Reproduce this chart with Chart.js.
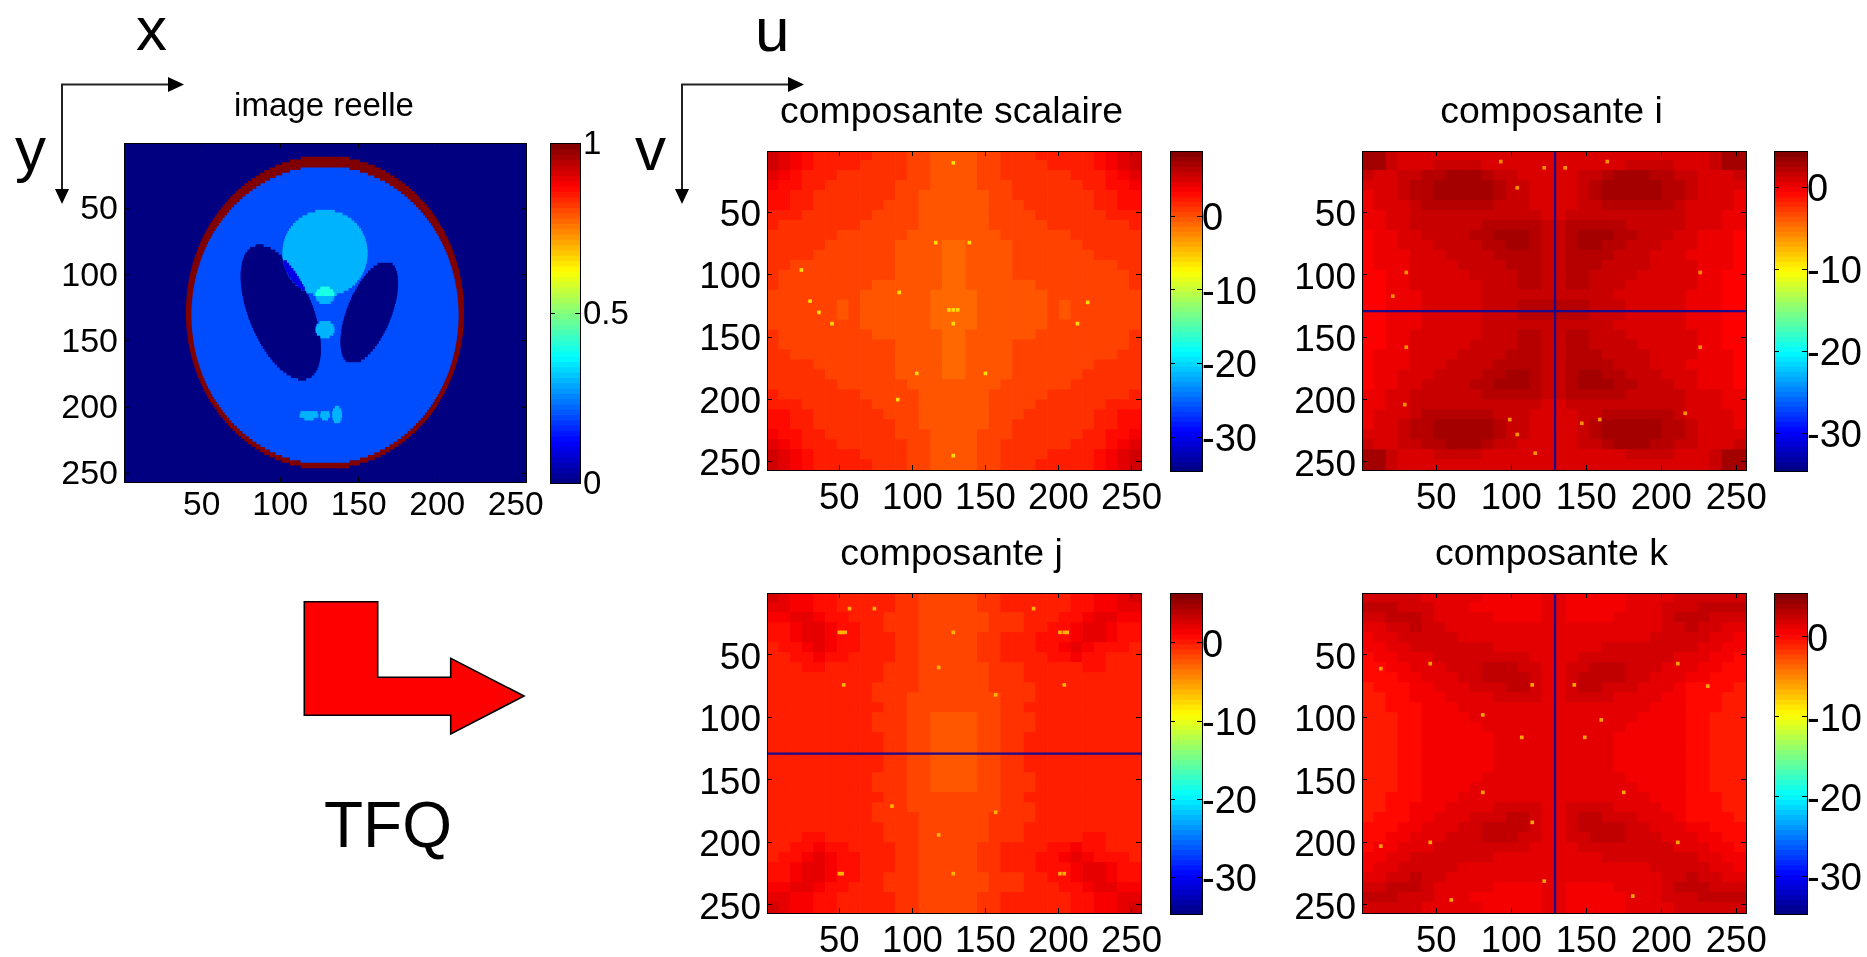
<!DOCTYPE html>
<html><head><meta charset="utf-8">
<style>
html,body{margin:0;padding:0;background:#fff;width:1867px;height:957px;overflow:hidden}
canvas{position:absolute;display:block}
svg{position:absolute;left:0;top:0;pointer-events:none}
svg text{font-family:"Liberation Sans",Arial,sans-serif;fill:#000}
</style>
<script src="https://cdn.jsdelivr.net/npm/chart.js@4"></script>
</head><body>
<svg width="1867" height="957" viewBox="0 0 1867 957">
<text x="136" y="50" font-size="62">x</text>
<text x="15" y="170" font-size="62">y</text>
<text x="755" y="51" font-size="62">u</text>
<text x="635" y="170" font-size="62">v</text>
<text x="324" y="847" font-size="64">TFQ</text>
<g fill="none" stroke="#222" stroke-width="2">
<path d="M170 84.5H62V190"/><path d="M792 84.5H682V190"/></g>
<g fill="#000">
<path d="M184 84.5L168 77V92Z"/><path d="M62 204L55 189H69Z"/>
<path d="M804 84.5L788 77V92Z"/><path d="M682 204L675 189H689Z"/></g>
<path d="M304.3 601.7H377.7V677.3H450.7V658.3L524 696L450.7 734V715.3H304.3Z" fill="#f00" stroke="#000" stroke-width="1.6"/>
</svg>
<script>
const plotTicks=[50,100,150,200,250];
const imageTicks=[0,0.5,1];
const fftTicks=[0,-10,-20,-30];
const levelsImage={background:0,skull:1,body:0.2,overlap:0.1,bright:0.3,peak:0.4};
const skullHalfWidths=[88.3,88.3,88.3,88.2,88.1,88.0,87.9,87.7,87.5,87.3,87.0,86.8,86.5,86.1,85.8,85.4,85.0,84.6,84.1,83.6,83.1,82.5,81.9,81.3,80.7,80.0,79.2,78.5,77.7,76.9,76.0,75.1,74.1,73.1,72.1,71.0,69.9,68.7,67.5,66.2,64.8,63.4,61.9,60.3,58.7,57.0,55.1,53.2,51.1,49.0,46.6,44.1,41.4,38.5,35.2,31.5,27.3,22.1,15.2];
const bodyHalfWidths=[84.8,84.8,84.7,84.7,84.6,84.4,84.3,84.1,83.9,83.7,83.4,83.1,82.8,82.5,82.1,81.7,81.2,80.8,80.3,79.7,79.2,78.6,78.0,77.3,76.6,75.8,75.1,74.3,73.4,72.5,71.6,70.6,69.5,68.5,67.3,66.1,64.9,63.6,62.2,60.8,59.3,57.7,56.0,54.2,52.4,50.4,48.2,46.0,43.5,40.9,38.0,34.8,31.2,27.1,22.1,15.4];
const leftLobe=[[78.5,84.4,89.2],[80.5,80.9,93.7],[82.5,79.2,96.6],[84.5,78,98.8],[86.5,77.2,100.8],[88.5,76.5,102.5],[90.5,76,104],[92.5,75.7,105.5],[94.5,75.4,106.8],[96.5,75.2,108.2],[98.5,75,109.4],[100.5,75,110.5],[102.5,75,111.6],[104.5,75,112.6],[106.5,75.2,113.6],[108.5,75.3,114.5],[110.5,75.5,115.5],[112.5,75.8,116.3],[114.5,76,117],[116.5,76.4,117.8],[118.5,76.7,118.5],[120.5,77.1,119.3],[122.5,77.5,119.9],[124.5,78,120.6],[126.5,78.5,121.1],[128.5,79,121.7],[130.5,79.6,122.2],[132.5,80.1,122.7],[134.5,80.8,123.2],[136.5,81.4,123.6],[138.5,82.1,123.9],[140.5,82.9,124.3],[142.5,83.6,124.6],[144.5,84.5,125],[146.5,85.3,125.2],[148.5,86.2,125.4],[150.5,87.1,125.5],[152.5,88,125.6],[154.5,89.1,125.7],[156.5,90.2,125.7],[158.5,91.4,125.7],[160.5,92.5,125.5],[162.5,93.9,125.3],[164.5,95.2,125],[166.5,96.6,124.6],[168.5,98.2,124.2],[170.5,99.9,123.5],[172.5,101.9,122.7],[174.5,104.2,121.5],[176.5,107,119.8],[178.5,111.5,116.3]];
const rightLobe=[[92.5,162.1,171.4],[94.5,159.6,172.8],[96.5,157.7,173.5],[98.5,156.1,174.1],[100.5,154.6,174.4],[102.5,153.3,174.7],[104.5,152,174.8],[106.5,150.8,174.8],[108.5,149.8,174.8],[110.5,148.8,174.7],[112.5,147.8,174.4],[114.5,146.9,174.3],[116.5,146,174],[118.5,145.3,173.7],[120.5,144.5,173.3],[122.5,143.8,172.8],[124.5,143.2,172.4],[126.5,142.5,171.9],[128.5,142,171.4],[130.5,141.4,170.8],[132.5,140.9,170.1],[134.5,140.5,169.5],[136.5,140,168.8],[138.5,139.7,168.1],[140.5,139.3,167.3],[142.5,139,166.4],[144.5,138.9,165.5],[146.5,138.7,164.6],[148.5,138.6,163.6],[150.5,138.5,162.5],[152.5,138.5,161.3],[154.5,138.7,160.1],[156.5,138.9,158.7],[158.5,139.2,157.2],[160.5,139.8,155.6],[162.5,140.5,153.7],[164.5,141.9,151.3]];
const topDiscHalfWidths=[[52.5,6],[54.5,11],[56.5,14.2],[58.5,16.6],[60.5,18.5],[62.5,20.1],[64.5,21.5],[66.5,22.7],[68.5,23.7],[70.5,24.5],[72.5,25.2],[74.5,25.7],[76.5,26.2],[78.5,26.5],[80.5,26.7],[82.5,26.9],[84.5,26.9],[86.5,26.8],[88.5,26.6],[90.5,26.3],[92.5,25.8],[94.5,25.3],[96.5,24.6],[98.5,23.8],[100.5,22.9],[102.5,21.8],[104.5,20.4],[106.5,18.9],[108.5,17],[110.5,14.7],[112.5,11.7],[114.5,7.3]];
const overlapSpans=[[90.5,102.2,104],[92.5,102.7,105.5],[94.5,103.2,106.8],[96.5,103.9,108.2],[98.5,104.7,109.4],[100.5,105.6,110.5],[102.5,106.7,111.6],[104.5,108.1,112.6],[106.5,109.6,113.6],[108.5,111.5,114.5],[110.5,113.8,115.5],[138.5,123.3,123.9],[140.5,122.7,124.3],[142.5,122.7,124.6],[144.5,123.5,125]];
const peakSpans=[[110.5,125.7,131.3],[112.5,123.5,133.5],[114.5,122.7,134.3]];
const brightSpans=[[116.5,122.7,134.3],[118.5,123.3,133.7],[120.5,125.1,131.9],[136.5,125.1,131.9],[138.5,123.3,133.7],[140.5,122.7,134.3],[142.5,122.7,134.3],[144.5,123.5,133.5],[146.5,125.7,131.3],[204.5,113.1,123.5],[206.5,112.5,124.1],[208.5,115.5,121.1],[204.5,126,131],[206.5,125.6,131.4],[208.5,126.8,130.2],[200.5,135,137.4],[202.5,133.8,138.6],[204.5,133.3,139.1],[206.5,133.3,139.1],[208.5,133.6,138.8],[210.5,134.4,138]];

const scalaireRows=[
"87654444433322111122333444445678","87654444333322111122333344445678","76544433333322111122333333444567","65544333333222111122233333344556",
"55443333333221111112233333334455","55443333332221111112223333334455","44433333322221111112222333333444","43333333222221111112222233333334",
"33333322222211111111222222333333","33333222222111100111122222233333","33332222222111100111122222223333","33222222222111100111122222222233",
"32222222222111100111122222222223","32222222211111100111111222222223","22222222111111000011111122222222","22222212111111000011111121222222",
"22222212111111000011111121222222","22222222111111000011111122222222","32222222211111100111111222222223","32222222222111100111122222222223",
"33222222222111100111122222222233","33332222222111100111122222223333","33333222222111100111122222233333","33333322222211111111222222333333",
"43333333222221111112222233333334","44433333322221111112222333333444","55443333332221111112223333334455","55443333333221111112233333334455",
"65544333333222111122233333344556","76544433333322111122333333444567","87654444333322111122333344445678","87654444433322111122333444445678"];
const iRows=[
"77544444444444444444444444444577","77544455554444444444445555444577","54455667776554444455677766554445","44456677777655444456777776654444",
"34456677777655444456777776654443","34445666666555444455666666544443","33445555555555544555555555544433","33445555556666655666665555544433",
"23344555566777655677766555443332","23344455556677655677665554443332","23334445555666655666655544433332","23334444555566655666555544443332",
"22334444455556655665555444443322","22334444445556655665554444443322","22333444445555555555544444433322","22333444445556666665554444433322",
"22333444445556666665554444433322","22333444445555555555544444433322","22334444445556655665554444443322","22334444455556655665555444443322",
"23334444555566655666555544443332","23334445555666655666655544433332","23344455556677655677665554443332","23344555566777655677766555443332",
"33445555556666655666665555544433","33445555555555544555555555544433","34445666666555444455666666544443","34456677777655444456777776654443",
"44456677777655444456777776654444","54455667776554444455677766554445","77544455554444444444445555444577","77544444444444444444444444444577"];
const jRows=[
"76554433333221111122333333445567","66554433333221111122333333445566","55665443332221111112223334456655","44566544332221111112223344566544",
"44566544333221111122333444566544","34456544333221111122333445654443","33445443333221111122333344544333","33344333332221111112223333344333",
"33333333332221111112223333333333","33333333322221111112222333333333","33333333322211111111222333333333","33333333332211111111223333333333",
"33333333322211000011222333333333","33333333322211000011222333333333","33333333332211000011223333333333","33333333332211000011223333333333",
"33333333332211000011223333333333","33333333332211000011223333333333","33333333322211000011222333333333","33333333322211000011222333333333",
"33333333332211111111223333333333","33333333322211111111222333333333","33333333322221111112222333333333","33333333332221111112223333333333",
"33344333332221111112223333344333","33445443333221111122333344544333","34456544333221111122333445654443","44566544333221111122333444566544",
"44566544332221111112223344566544","55665443332221111112223334456655","66554433333221111122333333445566","76554433333221111122333333445567"];
const kRows=[
"66666555554444455444445555666666","77766655544444455444445556667777","66777655555444455444455556777666","55667665555555555555555556676655",
"45566666555555555555555566666554","44556666666555555555666666665544","34455566666666555566666666555443","33445556667776655667776665554433",
"33344555667777655677776655544333","23334455566677655677666555433332","22334445555666655666655554433322","22333444555555555555555544433322",
"22233444455555555555555444433222","22233444445555555555554444433222","22233444444555555555544444433222","22233444444555555555544444433222",
"22233444444555555555544444433222","22233444444555555555544444433222","22233444445555555555554444433222","22233444455555555555555444433222",
"22333444555555555555555544433322","22334445555666655666655554433322","23334455566677655677666555433332","33344555667777655677776655544333",
"33445556667776655667776665554433","34455566666666555566666666555443","44556666666555555555666666665544","45566666555555555555555566666554",
"55667665555555555555555556676655","66777655555444455444455556777666","77766655544444455444445556667777","66666555554444455444445555666666"];
const scalaireDots=[[45,139],[24,96],[213,139],[91,114],[128,128],[125,128],[131,128],[128,139],[128,10],[128,245],[116,74],[139,74],[30,121],[36,130],[90,200],[220,122],[103,179],[150,179]];
const iDots=[[30,98],[226,98],[30,158],[226,158],[122,14],[93,9],[164,9],[21,117],[136,14],[104,30],[99,216],[29,204],[216,211],[147,219],[116,243],[104,228],[159,216]];
const jDots=[[50,32],[52,32],[54,32],[201,32],[204,32],[206,32],[50,225],[52,225],[201,225],[204,225],[57,13],[74,13],[183,13],[157,82],[157,176],[53,74],[204,74],[128,32],[128,225],[86,171],[118,60],[118,194]];
const kDots=[[81,160],[175,160],[46,57],[211,57],[114,74],[142,74],[81,98],[160,102],[107,116],[149,116],[114,184],[211,200],[46,200],[181,243],[60,246],[122,231],[231,75],[13,61],[13,203]];
const dotLevel=-6;

const FONT='"Liberation Sans",Arial,sans-serif';
function jet(t){const c=v=>Math.round(255*Math.max(0,Math.min(1,v)));
 return `rgb(${c(Math.min(4*t-1.5,-4*t+4.5))},${c(Math.min(4*t-0.5,-4*t+3.5))},${c(Math.min(4*t+0.5,-4*t+2.5))})`;}
function axis(kind,ticks,size,pad,fix,min,max,rev,pos,dy){
 return {type:'linear',min,max,reverse:rev,position:pos,offset:false,
  afterBuildTicks:s=>{s.ticks=ticks.map(v=>({value:v}));},
  afterFit:s=>{if(kind==='x')s.height=fix;else s.width=fix;
   if(dy&&!s._shifted){s._shifted=true;const orig=s._computeLabelItems;
    s._computeLabelItems=function(a){const items=orig.call(this,a);items.forEach(it=>{const t=it.options.translation;it.options.translation=[t[0],t[1]+dy];});return items;};}},
  grid:{offset:false,drawOnChartArea:false,drawTicks:true,tickLength:-5,color:'#000',z:1},
  border:{display:true,color:'#000',z:1},
  ticks:{display:size>0,autoSkip:false,maxRotation:0,minRotation:0,padding:pad,color:'#000',font:{size:size||10,family:FONT},callback:v=>String(v)}};}
function make(left,top,width,height,config){
 const c=document.createElement('canvas');c.width=width;c.height=height;
 c.style.left=left+'px';c.style.top=top+'px';c.style.width=width+'px';c.style.height=height+'px';
 document.body.insertBefore(c,document.querySelector('svg'));
 config.options=Object.assign({indexAxis:'y',responsive:false,animation:false,devicePixelRatio:1,events:[]},config.options);
 return new Chart(c,config);}
function imagePanel(box,title,fsTitle,padTop,fsTick,tickPad,rightRoom,dy,datasets){
 const [L,T,R,B]=box;
 make(L-100,T-70,R-L+100+rightRoom,B-T+130,{type:'bar',data:{datasets},options:{
  plugins:{legend:{display:false},tooltip:{enabled:false},
   title:{display:true,text:title,color:'#000',fullSize:true,font:{size:fsTitle,family:FONT,lineHeight:1,weight:'normal'},padding:{top:padTop,bottom:70-fsTitle-padTop}}},
  scales:{x:axis('x',plotTicks,fsTick,tickPad,60,0.5,256.5,false,'bottom'),
   y:axis('y',plotTicks,fsTick+0.5,11,100,0.5,256.5,true,'left',dy),
   xt:axis('x',plotTicks,0,0,0,0.5,256.5,false,'top'),
   yr:axis('y',plotTicks,0,0,rightRoom,0.5,256.5,true,'right')}}});}
function colorbar(box,min,max,ticks,fs,pad,dy){
 const [L,T,R,B]=box,n=64,step=(max-min)/n,data=[],colors=[];
 for(let i=0;i<n;i++){data.push({x:[0,1],y:min+(i+0.5)*step});colors.push(jet((i+0.5)/n));}
 make(L,T-30,R-L+90,B-T+60,{type:'bar',data:{datasets:[{data,backgroundColor:colors,borderWidth:0,barThickness:Math.ceil((B-T)/n)+1,grouped:false,xAxisID:'x',yAxisID:'y'}]},options:{
  layout:{padding:{top:30,bottom:30,right:0}},
  plugins:{legend:{display:false},tooltip:{enabled:false}},
  scales:{x:axis('x',[],0,0,0,0,1,false,'bottom'),xt:axis('x',[],0,0,0,0,1,false,'top'),
   y:axis('y',ticks,0,0,0,min,max,false,'left'),
   yr:axis('y',ticks,fs,pad,90,min,max,false,'right',dy)}}});}
function heat(rows,dots,midDigit,midValue,gain,min,max,extra){
 const data=[],colors=[];
 rows.forEach((row,r)=>{[...row].forEach((d,c)=>{
  const v=midValue+(Number(d)-midDigit)*gain;
  data.push({x:[c*8+0.5,(c+1)*8+0.5],y:(r+0.5)*8+0.5});colors.push(jet((v-min)/(max-min)));});});
 const speck={data:dots.map(p=>({x:[p[0]-1,p[0]+1],y:p[1]})),backgroundColor:jet((dotLevel-min)/(max-min)),borderWidth:0,barThickness:3,grouped:false,order:2,xAxisID:'x',yAxisID:'y'};
 const sets=[speck,{data,backgroundColor:colors,borderWidth:0,barThickness:11,grouped:false,order:5,xAxisID:'x',yAxisID:'y'}];
 return extra.concat(sets);}
const hLine={data:[{x:[0.5,256.5],y:129}],backgroundColor:'#1c0a8c',borderWidth:0,barThickness:1.6,grouped:false,order:1,xAxisID:'x',yAxisID:'y'};
const vLine={data:[{x:[128.7,129.7],y:128.5}],backgroundColor:'#1c0a8c',borderWidth:0,barThickness:322,grouped:false,order:1,xAxisID:'x',yAxisID:'y'};

const C=128.5,mirror=(a,c)=>a.flatMap((w,k)=>{const p=[{x:[C-w,C+w],y:c+2*k}];if(k)p.push({x:[C-w,C+w],y:c-2*k});return p;});
const spans=a=>a.map(s=>({x:[s[1],s[2]],y:s[0]}));
const layer=(data,v,order,th)=>({data,backgroundColor:jet(v),borderWidth:0,barThickness:th||3.4,grouped:false,order,xAxisID:'x',yAxisID:'y'});
imagePanel([124,143,526,482],'image reelle',33,17,33.5,9,98,1.5,[
 layer([{x:[0.5,256.5],y:128.5}],levelsImage.background,9,342),
 layer(mirror(skullHalfWidths,128.5),levelsImage.skull,8),
 layer(mirror(bodyHalfWidths,130.5),levelsImage.body,7),
 layer(spans(leftLobe),levelsImage.background,6),
 layer(spans(rightLobe),levelsImage.background,5),
 layer(topDiscHalfWidths.map(s=>({x:[C-s[1],C+s[1]],y:s[0]})),levelsImage.bright,4),
 layer(spans(overlapSpans),levelsImage.overlap,3),
 layer(spans(brightSpans),levelsImage.bright,2),
 layer(spans(peakSpans),levelsImage.peak,1)]);
colorbar([550,143,580,483],0,1,imageTicks,33,8,1.5);

imagePanel([767,151,1141,470],'composante scalaire',37.4,13,36.5,12,95,3,heat(scalaireRows,scalaireDots,3,1.4,0.8,-34.6,8.86,[]));
colorbar([1170,151,1202,471],-34.6,8.86,fftTicks,38,5,3.5);
imagePanel([1362,151,1746,470],'composante i',37.4,13,36.5,12,95,3.5,heat(iRows,iDots,4.5,1.3,0.7,-34.6,4.43,[hLine,vLine]));
colorbar([1774,151,1807,471],-34.6,4.43,fftTicks,38,5,3.5);
imagePanel([767,593,1141,913],'composante j',37.4,13,36.5,12,95,3.5,heat(jRows,jDots,3,0,0.75,-34.7,6.4,[hLine]));
colorbar([1170,593,1202,914],-34.7,6.4,fftTicks,38,5,3.5);
imagePanel([1362,593,1746,913],'composante k',37.4,13,36.5,12,95,3.5,heat(kRows,kDots,4.5,1.2,0.7,-34.7,5.5,[vLine]));
colorbar([1774,593,1807,914],-34.7,5.5,fftTicks,38,5,3.5);
</script>
</body></html>
